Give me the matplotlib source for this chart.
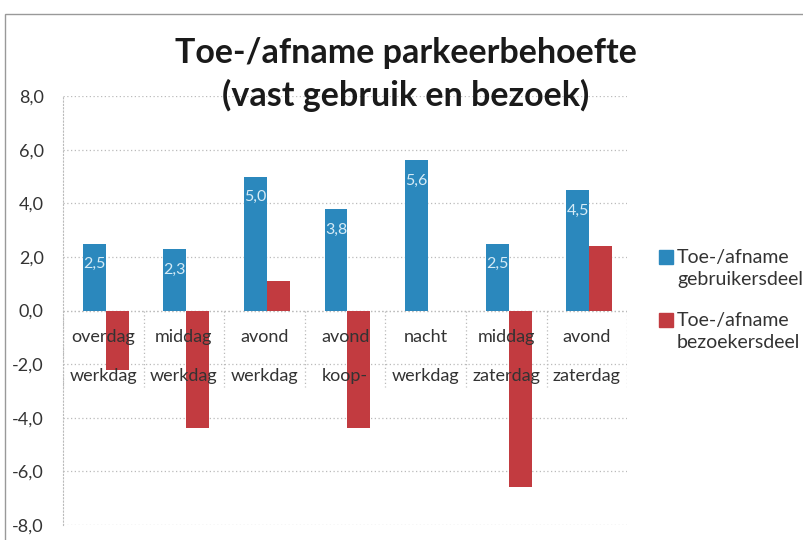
import matplotlib
matplotlib.use("Agg")
import matplotlib.pyplot as plt
import matplotlib.patches as mpatches
import numpy as np

# data
dagdeel = ['overdag', 'middag', 'avond', 'avond', 'nacht', 'middag', 'avond']
dag = ['werkdag', 'werkdag', 'werkdag', 'koop-', 'werkdag', 'zaterdag', 'zaterdag']
gebruikersdeel = [2.5, 2.3, 5.0, 3.8, 5.6, 2.5, 4.5]
bezoekersdeel = [-2.2, -4.4, 1.1, -4.4, 0.0, -6.6, 2.4]
series_names = ['Toe-/afname\ngebruikersdeel', 'Toe-/afname\nbezoekersdeel']

blue = '#2b88bd'
red = '#c23b40'
plt.rcParams['font.family'] = ['Lato', 'DejaVu Sans']

fig = plt.figure(figsize=(8.04, 5.4), dpi=100)
ax = fig.add_axes([0.0784, 0.0278, 0.7016, 0.7942])

x = np.arange(len(gebruikersdeel))
w = 0.285
ax.bar(x - w / 2 + 0.03, gebruikersdeel, w, color=blue, zorder=3)
ax.bar(x + w / 2 + 0.03, bezoekersdeel, w, color=red, zorder=3)

# value labels on blue bars
for xi, v in zip(x, gebruikersdeel):
    ax.annotate(f'{v:.1f}'.replace('.', ','), (xi - w / 2 + 0.03, v),
                xytext=(0, -15), textcoords='offset points',
                ha='center', va='center', fontsize=11.5, color='#d6ebf6', zorder=4)

ax.set_xlim(-0.5, len(x) - 0.5)
ax.set_ylim(-8, 8)
ax.set_yticks(np.arange(-8, 9, 2))
ax.set_yticklabels([f'{t:.1f}'.replace('.', ',') for t in np.arange(-8, 9, 2)],
                   fontsize=13, color='#333333')
ax.tick_params(axis='y', length=0, pad=14)
ax.set_xticks([])
ax.grid(axis='y', linestyle=(0, (1, 2)), color='#bbbbbb', linewidth=0.9, zorder=0)
for s in ['top', 'right', 'bottom']:
    ax.spines[s].set_visible(False)
ax.spines['left'].set_linestyle((0, (1, 2)))
ax.spines['left'].set_color('#bbbbbb')

# category labels in two rows just below the zero line
for xi, a, b in zip(x, dagdeel, dag):
    ax.text(xi, -1.0, a, ha='center', va='center', fontsize=13, color='#333333', zorder=5)
    ax.text(xi, -2.45, b, ha='center', va='center', fontsize=13, color='#333333', zorder=5)
for xb in np.arange(-0.5, len(x), 1.0):
    ax.plot([xb, xb], [0, -2.85], linestyle=(0, (1, 2)), color='#bbbbbb',
            linewidth=0.9, zorder=1)
ax.axhline(0, linestyle=(0, (1, 2)), color='#bbbbbb', linewidth=0.9, zorder=1)

fig.text(0.505, 0.862, 'Toe-/afname parkeerbehoefte\n(vast gebruik en bezoek)',
         ha='center', va='center', fontsize=24.5, fontweight='bold',
         color='#1a1a1a', linespacing=1.38)

# legend, drawn by hand for the wide line spacing
for i, (name, col) in enumerate(zip(series_names, [blue, red])):
    y0 = 0.524 - i * 0.117
    fig.add_artist(mpatches.Rectangle((0.8197, y0 - 0.013), 0.0174, 0.026,
                                      transform=fig.transFigure, color=col))
    for j, line in enumerate(name.split('\n')):
        fig.text(0.842, y0 - j * 0.041, line, ha='left', va='center',
                 fontsize=14, color='#333333')

# chart border
fig.add_artist(mpatches.Rectangle((0.006, -0.05), 1.1, 1.024, transform=fig.transFigure,
                                  fill=False, edgecolor='#999999', linewidth=1.0))

fig.savefig('out.png', dpi=100)
